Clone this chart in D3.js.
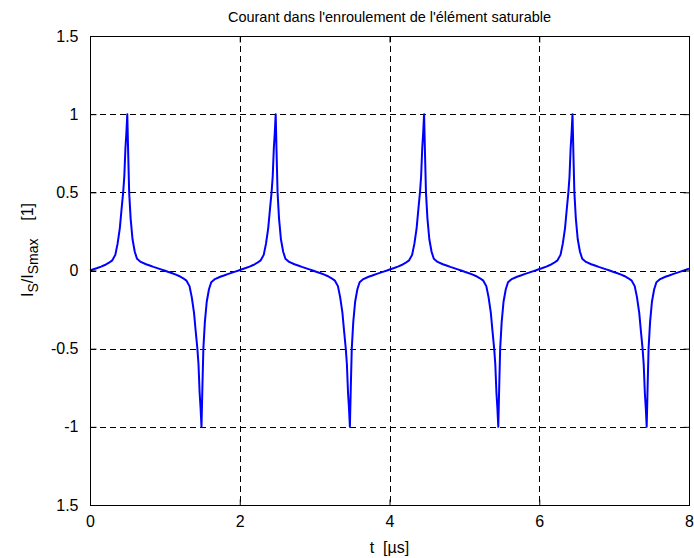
<!DOCTYPE html>
<html><head><meta charset="utf-8">
<script src="https://cdn.jsdelivr.net/npm/d3@7"></script>
<style>body{margin:0;background:#fff}svg{display:block}text{font-family:"Liberation Sans",Arial,sans-serif;fill:#000;white-space:pre}</style>
</head><body><svg id="c" width="694" height="558"></svg>
<script>
const title = "Courant dans l'enroulement de l'élément saturable";
const xTicks = [0, 2, 4, 6, 8];
const xTickLabels = ["0", "2", "4", "6", "8"];
const yTicks = [1.5, 1, 0.5, 0, -0.5, -1, -1.5];
const yTickLabels = ["1.5", "1", "0.5", "0", "-0.5", "-1", "1.5"];

// time in µs
const tUs = [
 0.000,
 0.048,0.098,0.148,0.198,0.248,0.298,0.338,0.368,0.398,0.423,0.443,0.458,0.473,0.486,0.498,0.510,0.523,0.543,0.568,0.598,0.628,0.678,0.748,0.798,0.848,0.898,0.948,0.9935,
 1.039,1.089,1.139,1.189,1.239,1.289,1.329,1.359,1.389,1.414,1.434,1.449,1.464,1.477,1.489,1.501,1.514,1.534,1.559,1.589,1.619,1.669,1.739,1.789,1.839,1.889,1.939,1.9845,
 2.030,2.080,2.130,2.180,2.230,2.280,2.320,2.350,2.380,2.405,2.425,2.440,2.455,2.468,2.480,2.492,2.505,2.525,2.550,2.580,2.610,2.660,2.730,2.780,2.830,2.880,2.930,2.9755,
 3.021,3.071,3.121,3.171,3.221,3.271,3.311,3.341,3.371,3.396,3.416,3.431,3.446,3.459,3.471,3.483,3.496,3.516,3.541,3.571,3.601,3.651,3.721,3.771,3.821,3.871,3.921,3.9665,
 4.012,4.062,4.112,4.162,4.212,4.262,4.302,4.332,4.362,4.387,4.407,4.422,4.437,4.450,4.462,4.474,4.487,4.507,4.532,4.562,4.592,4.642,4.712,4.762,4.812,4.862,4.912,4.9575,
 5.003,5.053,5.103,5.153,5.203,5.253,5.293,5.323,5.353,5.378,5.398,5.413,5.428,5.441,5.453,5.465,5.478,5.498,5.523,5.553,5.583,5.633,5.703,5.753,5.803,5.853,5.903,5.9485,
 5.994,6.044,6.094,6.144,6.194,6.244,6.284,6.314,6.344,6.369,6.389,6.404,6.419,6.432,6.444,6.456,6.469,6.489,6.514,6.544,6.574,6.624,6.694,6.744,6.794,6.844,6.894,6.9395,
 6.985,7.035,7.085,7.135,7.185,7.235,7.275,7.305,7.335,7.360,7.380,7.395,7.410,7.423,7.435,7.447,7.460,7.480,7.505,7.535,7.565,7.615,7.685,7.735,7.785,7.835,7.885,7.9305,
 8.000
];
// normalised current I_S / I_Smax
const iNorm = [
 0.000,
 0.008,0.016,0.025,0.035,0.048,0.065,0.10,0.17,0.27,0.40,0.50,0.60,0.78,0.88,1.00,0.75,0.50,0.33,0.20,0.12,0.075,0.055,0.040,0.032,0.023,0.015,0.007,0,
 -0.008,-0.016,-0.025,-0.035,-0.048,-0.065,-0.10,-0.17,-0.27,-0.40,-0.50,-0.60,-0.78,-0.88,-1.00,-0.75,-0.50,-0.33,-0.20,-0.12,-0.075,-0.055,-0.040,-0.032,-0.023,-0.015,-0.007,0,
 0.008,0.016,0.025,0.035,0.048,0.065,0.10,0.17,0.27,0.40,0.50,0.60,0.78,0.88,1.00,0.75,0.50,0.33,0.20,0.12,0.075,0.055,0.040,0.032,0.023,0.015,0.007,0,
 -0.008,-0.016,-0.025,-0.035,-0.048,-0.065,-0.10,-0.17,-0.27,-0.40,-0.50,-0.60,-0.78,-0.88,-1.00,-0.75,-0.50,-0.33,-0.20,-0.12,-0.075,-0.055,-0.040,-0.032,-0.023,-0.015,-0.007,0,
 0.008,0.016,0.025,0.035,0.048,0.065,0.10,0.17,0.27,0.40,0.50,0.60,0.78,0.88,1.00,0.75,0.50,0.33,0.20,0.12,0.075,0.055,0.040,0.032,0.023,0.015,0.007,0,
 -0.008,-0.016,-0.025,-0.035,-0.048,-0.065,-0.10,-0.17,-0.27,-0.40,-0.50,-0.60,-0.78,-0.88,-1.00,-0.75,-0.50,-0.33,-0.20,-0.12,-0.075,-0.055,-0.040,-0.032,-0.023,-0.015,-0.007,0,
 0.008,0.016,0.025,0.035,0.048,0.065,0.10,0.17,0.27,0.40,0.50,0.60,0.78,0.88,1.00,0.75,0.50,0.33,0.20,0.12,0.075,0.055,0.040,0.032,0.023,0.015,0.007,0,
 -0.008,-0.016,-0.025,-0.035,-0.048,-0.065,-0.10,-0.17,-0.27,-0.40,-0.50,-0.60,-0.78,-0.88,-1.00,-0.75,-0.50,-0.33,-0.20,-0.12,-0.075,-0.055,-0.040,-0.032,-0.023,-0.015,-0.007,0,
 0.012
];

const svg = d3.select("#c");
const L = 90, R = 689, T = 36, B = 505;
const x = d3.scaleLinear().domain([0, 8]).range([L, R]);
const y = d3.scaleLinear().domain([-1.5, 1.5]).range([B, T]);
const data = tUs.map((t, i) => [t, iNorm[i]]);

// grid
const g = svg.append("g");
g.selectAll("line.gx").data(xTicks.filter(d => d > 0 && d < 8)).join("line")
  .attr("x1", d => Math.round(x(d)) + 0.5).attr("x2", d => Math.round(x(d)) + 0.5)
  .attr("y1", T).attr("y2", B)
  .attr("stroke", "#000").attr("stroke-width", 1).attr("stroke-dasharray", "6,4");
g.selectAll("line.gy").data(yTicks.filter(d => d > -1.5 && d < 1.5)).join("line")
  .attr("y1", d => Math.round(y(d)) + 0.5).attr("y2", d => Math.round(y(d)) + 0.5)
  .attr("x1", L).attr("x2", R)
  .attr("stroke", "#000").attr("stroke-width", 1).attr("stroke-dasharray", "6,4");

// data line
svg.append("path").datum(data)
  .attr("fill", "none").attr("stroke", "#0000ff").attr("stroke-width", 2)
  .attr("stroke-linejoin", "round")
  .attr("d", d3.line().x(d => x(d[0])).y(d => y(d[1])));

// axes box
svg.append("rect").attr("x", L + 0.5).attr("y", T + 0.5).attr("width", R - L).attr("height", B - T)
  .attr("fill", "none").attr("stroke", "#000").attr("stroke-width", 1);

const tickLen = 6;
const axB = svg.append("g").attr("transform", `translate(0,${B + 0.5})`)
  .call(d3.axisBottom(x).tickValues(xTicks).tickFormat((d, i) => xTickLabels[i]).tickSizeInner(-tickLen).tickSizeOuter(0).tickPadding(10));
const axT = svg.append("g").attr("transform", `translate(0,${T + 0.5})`)
  .call(d3.axisTop(x).tickValues(xTicks).tickFormat("").tickSizeInner(-tickLen).tickSizeOuter(0));
const axL = svg.append("g").attr("transform", `translate(${L + 0.5},0)`)
  .call(d3.axisLeft(y).tickValues(yTicks).tickFormat((d, i) => yTickLabels[i]).tickSizeInner(-tickLen).tickSizeOuter(0).tickPadding(12));
const axR = svg.append("g").attr("transform", `translate(${R + 0.5},0)`)
  .call(d3.axisRight(y).tickValues(yTicks).tickFormat("").tickSizeInner(-tickLen).tickSizeOuter(0));
[axB, axT, axL, axR].forEach(a => {
  a.select(".domain").remove();
  a.selectAll("text").attr("font-family", "Liberation Sans, Arial, sans-serif").attr("font-size", 16).attr("fill", "#000");
});

// title
svg.append("text").attr("x", (L + R) / 2).attr("y", 22).attr("text-anchor", "middle")
  .attr("font-size", 14.5).text(title);

// x label
svg.append("text").attr("x", (L + R) / 2).attr("y", 553).attr("text-anchor", "middle")
  .attr("font-size", 16).text("t  [µs]");

// y label
const yl = svg.append("text").attr("transform", "translate(33,250) rotate(-90)").attr("text-anchor", "middle").attr("font-size", 16);
yl.append("tspan").text("I");
yl.append("tspan").attr("dy", 5).attr("font-size", 14).text("S");
yl.append("tspan").attr("dy", -5).text("/I");
yl.append("tspan").attr("dy", 5).attr("font-size", 14).text("Smax");
yl.append("tspan").attr("dy", -5).text("    [1]");
</script></body></html>
